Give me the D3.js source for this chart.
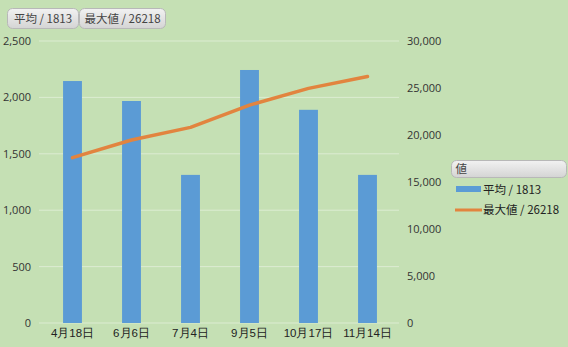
<!DOCTYPE html>
<html>
<head>
<meta charset="utf-8">
<script src="https://cdn.jsdelivr.net/npm/d3@7"></script>
<style>
  body { margin: 0; background: #c5e0b4; }
  svg { display: block; font-family: "Noto Sans CJK JP", "Noto Sans", sans-serif; }
</style>
</head>
<body>
<svg id="chart" width="568" height="347"></svg>
<script>
const dates = ["4月18日", "6月6日", "7月4日", "9月5日", "10月17日", "11月14日"];
const avgValues = [2145, 1968, 1313, 2243, 1890, 1313];
const maxValues = [17590, 19470, 20810, 23180, 24960, 26218];
const leftTicks = [0, 500, 1000, 1500, 2000, 2500];
const rightTicks = [0, 5000, 10000, 15000, 20000, 25000, 30000];
const avgLabel = "平均 / 1813";
const maxLabel = "最大値 / 26218";
const legendTitle = "値";

const svg = d3.select("#chart"),
      margin = { top: 41, right: 171, bottom: 24, left: 43 },
      width = +svg.attr("width") - margin.left - margin.right,
      height = +svg.attr("height") - margin.top - margin.bottom;

svg.append("rect").attr("width", 568).attr("height", 347).attr("fill", "#c5e0b4");

// gradient for the pill buttons
const grad = svg.append("defs").append("linearGradient")
    .attr("id", "pill").attr("x1", 0).attr("y1", 0).attr("x2", 0).attr("y2", 1);
grad.append("stop").attr("offset", "0%").attr("stop-color", "#f2f2f2");
grad.append("stop").attr("offset", "100%").attr("stop-color", "#d4d4d4");

const g = svg.append("g")
    .attr("transform", `translate(${margin.left},${margin.top})`);

const x = d3.scaleBand()
    .domain(dates)
    .range([0, width])
    .paddingInner(0.68)
    .paddingOuter(0.34);

const y = d3.scaleLinear().domain([0, 2500]).range([height, 0]);
const y2 = d3.scaleLinear().domain([0, 30000]).range([height, 0]);

// gridlines
g.selectAll(".grid")
    .data(leftTicks)
    .enter()
    .append("line")
    .attr("x1", -4)
    .attr("x2", width + 2)
    .attr("y1", d => y(d))
    .attr("y2", d => y(d))
    .attr("stroke", "#dcecd2")
    .attr("stroke-width", 1);

// Left axis
const yAxis = g.append("g")
    .call(d3.axisLeft(y).tickValues(leftTicks).tickFormat(d3.format(",")).tickSize(0).tickPadding(12));
yAxis.select(".domain").remove();
yAxis.selectAll("text").attr("font-size", "11px").attr("fill", "#333")
    .attr("font-family", "\"Open Sans\", sans-serif");

// Right axis
const y2Axis = g.append("g")
    .attr("transform", `translate(${width},0)`)
    .call(d3.axisRight(y2).tickValues(rightTicks).tickFormat(d3.format(",")).tickSize(0).tickPadding(10));
y2Axis.select(".domain").remove();
y2Axis.selectAll("text").attr("font-size", "11px").attr("fill", "#333")
    .attr("font-family", "\"Open Sans\", sans-serif");

// X axis
const xAxis = g.append("g")
    .attr("transform", `translate(0,${height})`)
    .call(d3.axisBottom(x).tickSize(0).tickPadding(6));
xAxis.select(".domain").remove();
xAxis.selectAll("text").attr("font-size", "11.5px").attr("fill", "#222");

// Bars
g.selectAll(".bar")
    .data(dates)
    .enter()
    .append("rect")
    .attr("class", "bar")
    .attr("x", d => x(d))
    .attr("width", x.bandwidth())
    .attr("y", (d, i) => y(avgValues[i]))
    .attr("height", (d, i) => height - y(avgValues[i]))
    .attr("fill", "#5b9bd5");

// Line
const line = d3.line()
    .x((d, i) => x(dates[i]) + x.bandwidth() / 2)
    .y(d => y2(d));

g.append("path")
    .datum(maxValues)
    .attr("fill", "none")
    .attr("stroke", "#e2843f")
    .attr("stroke-width", 3.5)
    .attr("stroke-linecap", "round")
    .attr("stroke-linejoin", "round")
    .attr("d", line);

// pill helper
function pill(px, py, w, h, label, anchor) {
    svg.append("rect")
        .attr("x", px).attr("y", py).attr("width", w).attr("height", h)
        .attr("rx", 5).attr("fill", "url(#pill)")
        .attr("stroke", "#b8b8b8").attr("stroke-width", 1);
    svg.append("text")
        .attr("x", anchor === "start" ? px + 4 : px + w / 2)
        .attr("y", py + h / 2 + 4)
        .attr("text-anchor", anchor || "middle")
        .attr("font-size", "11.5px")
        .attr("fill", "#444")
        .text(label);
}

pill(7.5, 8.5, 71, 20, avgLabel);
pill(79.5, 8.5, 86, 20, maxLabel);
pill(451.5, 160.5, 115, 17, legendTitle, "start");

// Legend
svg.append("rect")
    .attr("x", 456).attr("y", 186).attr("width", 25).attr("height", 6)
    .attr("fill", "#5b9bd5");
svg.append("text")
    .attr("x", 483).attr("y", 194)
    .attr("font-size", "11.5px").attr("fill", "#222")
    .text(avgLabel);

svg.append("line")
    .attr("x1", 455).attr("x2", 482).attr("y1", 210).attr("y2", 210)
    .attr("stroke", "#e2843f").attr("stroke-width", 3);
svg.append("text")
    .attr("x", 483).attr("y", 214)
    .attr("font-size", "11.5px").attr("fill", "#222")
    .text(maxLabel);
</script>
</body>
</html>
